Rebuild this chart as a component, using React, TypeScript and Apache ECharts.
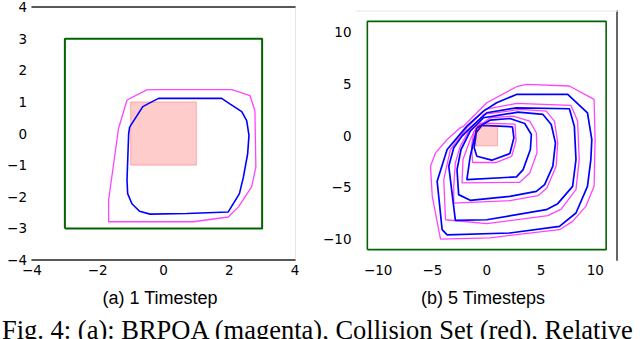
import React, { useEffect, useRef } from "react";
import * as echarts from "echarts";

// ---------- tick labels ----------
const ticksAX = [-4, -2, 0, 2, 4];
const ticksAY = [-4, -3, -2, -1, 0, 1, 2, 3, 4];
const ticksB = [-10, -5, 0, 5, 10];

// ---------- subplot (a): 1 timestep ----------
const envA = [[-3, -3], [3, -3], [3, 3], [-3, 3], [-3, -3]];
const collisionA = [[-1, -1], [1, -1], [1, 1], [-1, 1]];
const brpoaA = [
  [-1.11, 1.06], [-0.51, 1.38], [-0.2, 1.39], [2.08, 1.39], [2.63, 1.2], [2.78, 0.72],
  [2.81, -1.06], [2.68, -1.69], [2.28, -2.32], [1.97, -2.64], [0.91, -2.79],
  [-1.67, -2.79], [-1.67, -2.11], [-1.37, 0.15], [-1.11, 1.06],
];
const reachA = [
  [-1.03, 0.2], [-0.63, 0.85], [-0.43, 0.96], [-0.15, 1.11], [1.77, 1.11], [2.03, 0.93],
  [2.38, 0.69], [2.53, 0.41], [2.6, -0.06], [2.56, -0.64], [2.43, -1.38], [2.31, -1.9],
  [1.97, -2.48], [0.71, -2.53], [-0.41, -2.55], [-0.73, -2.46], [-0.96, -2.22],
  [-1.09, -1.9], [-1.11, -1.48], [-1.06, -0.01], [-1.03, 0.2],
];

// ---------- subplot (b): 5 timesteps ----------
const envB = [[-11, -11], [11, -11], [11, 11], [-11, 11], [-11, -11]];
const collisionB = [[-1, -1], [1, -1], [1, 1], [-1, 1]];
const reachB1 = [
  [-0.97, 0.26], [-0.46, 0.97], [2.37, 0.84], [2.5, -0.23], [2.13, -1.74], [0.46, -2.38],
  [-0.91, -2.0], [-1.16, -1.19], [-0.97, 0.26],
];
const brpoaB1 = [
  [-1.2, 0.3], [-0.6, 1.2], [2.6, 1.1], [2.7, -0.5], [2.3, -2.0], [0.9, -2.6],
  [-1.3, -2.6], [-1.4, -1.0], [-1.2, 0.3],
];
const reachB2 = [
  [-0.91, 0.74], [0.3, 1.48], [2.13, 1.64], [3.5, 1.16], [4.11, 0.1], [4.02, -1.35],
  [3.35, -3.29], [2.74, -3.99], [-1.83, -4.25], [-1.52, -2.0], [-1.16, -0.39], [-0.91, 0.74],
];
const brpoaB2 = [
  [-1.07, 0.58], [0.3, 1.71], [2.44, 1.87], [3.96, 1.39], [4.57, 0.26], [4.63, -1.67],
  [3.96, -3.61], [3.04, -4.51], [-2.28, -4.57], [-2.19, -2.32], [-1.52, -0.39], [-1.07, 0.58],
];
const reachB3 = [
  [-1.52, 0.42], [-0.3, 1.71], [2.89, 2.25], [5.18, 2.03], [5.94, 1.06], [6.33, -0.71],
  [6.09, -2.96], [5.33, -4.73], [4.57, -5.38], [2.13, -5.86], [-1.52, -6.25], [-2.59, -5.7],
  [-2.74, -3.29], [-2.37, -1.35], [-1.52, 0.42],
];
const brpoaB3 = [
  [-1.67, 0.42], [-0.3, 2.03], [3.04, 2.51], [5.48, 2.35], [6.24, 1.39], [6.54, -0.71],
  [6.39, -2.96], [5.54, -5.06], [4.72, -5.8], [2.13, -6.28], [-3.04, -6.51], [-3.04, -4.9],
  [-2.89, -2.64], [-2.44, -1.03], [-1.67, 0.42],
];
const reachB4 = [
  [-1.52, 0.74], [0, 2.19], [2.74, 2.67], [7.61, 2.58], [8.07, 0.9], [8.22, -2.32],
  [7.91, -4.9], [6.54, -6.57], [5.48, -7.15], [0, -8.12], [-2.89, -8.18], [-3.5, -2.96],
  [-3.04, -1.19], [-2.28, -0.06], [-1.52, 0.74],
];
const brpoaB4 = [
  [-1.83, 0.74], [-0.15, 2.51], [2.74, 3.09], [7.76, 2.9], [8.37, 1.39], [8.52, -2.32],
  [8.22, -5.22], [6.85, -7.09], [5.63, -7.73], [0, -8.5], [-3.8, -8.12], [-3.96, -4.25],
  [-3.35, -1.35], [-1.83, 0.74],
];
const reachB5 = [
  [-1.83, 0.9], [-0.3, 2.35], [0.91, 3.16], [2.74, 3.96], [7.46, 3.96], [9.28, 2.19],
  [9.68, -0.39], [9.59, -2.32], [9.28, -4.9], [8.22, -7.47], [6.7, -8.76], [2.13, -9.4],
  [-3.65, -9.57], [-4.11, -9.08], [-4.57, -4.41], [-3.65, -1.35], [-2.74, -0.23], [-1.83, 0.9],
];
const brpoaB5 = [
  [-2.13, 0.9], [-0.91, 2.19], [0, 3.16], [2.74, 4.7], [3.65, 4.93], [7.61, 4.77],
  [9.89, 3.48], [9.98, -0.39], [9.89, -4.9], [9.13, -6.83], [7.91, -8.28], [6.7, -9.08],
  [0.3, -9.86], [-4.26, -9.98], [-5.02, -5.86], [-5.18, -2.96], [-4.72, -1.67],
  [-3.65, -0.39], [-2.44, 0.74], [-2.13, 0.9],
];

const reachB = [reachB1, reachB2, reachB3, reachB4, reachB5];
const brpoaB = [brpoaB1, brpoaB2, brpoaB3, brpoaB4, brpoaB5];

const GREEN = "#006400";
const BLUE = "#0000ff";
const MAGENTA = "#ff44ff";
const TICK_FONT = "DejaVu Sans";

const fmt = (v: number) => (v < 0 ? "\u2212" + String(-v) : String(v));

function lineSeries(name: string, data: number[][], grid: number, color: string, width: number, z = 2) {
  return {
    name,
    type: "line",
    xAxisIndex: grid * 2,
    yAxisIndex: grid * 2,
    data,
    symbol: "none",
    smooth: false,
    z,
    lineStyle: { color, width },
    silent: true,
  };
}

function rectSeries(name: string, pts: number[][], grid: number) {
  return {
    name,
    type: "custom",
    xAxisIndex: grid * 2,
    yAxisIndex: grid * 2,
    data: [[0, 0]],
    z: 1,
    silent: true,
    renderItem: (_p: any, api: any) => ({
      type: "polygon",
      shape: { points: pts.map((p) => api.coord(p)) },
      style: { fill: "rgba(255,0,0,0.2)", stroke: "rgba(255,0,0,0.25)", lineWidth: 1 },
    }),
  };
}

export default function App() {
  const ref = useRef<HTMLDivElement>(null);
  useEffect(() => {
    if (!ref.current) return;
    const chart = echarts.init(ref.current, null, { renderer: "svg" });
    const labelStyle = { fontSize: 13.5, color: "#000", fontFamily: TICK_FONT };
    const series: any[] = [
      rectSeries("Collision Set", collisionA, 0),
      lineSeries("Environment", envA, 0, GREEN, 2),
      lineSeries("BRPOA", brpoaA, 0, MAGENTA, 1.3),
      lineSeries("Reachable", reachA, 0, BLUE, 1.6, 3),
      lineSeries("Environment B", envB, 1, GREEN, 1.6),
    ];
    brpoaB.forEach((d, i) => series.push(lineSeries("BRPOA " + (i + 1), d, 1, MAGENTA, 1.3)));
    reachB.forEach((d, i) => series.push(lineSeries("Reachable " + (i + 1), d, 1, BLUE, 1.7, 3)));
    series.push({ ...rectSeries("Collision Set B", collisionB, 1), z: 4 });

    chart.setOption({
      animation: false,
      backgroundColor: "#fff",
      grid: [
        { left: 32, top: 6, width: 263, height: 254 },
        { left: 356.5, top: 11, width: 260.5, height: 249 },
      ],
      xAxis: [
        {
          gridIndex: 0, type: "value", position: "bottom", min: -4, max: 4, interval: 2,
          axisLine: { show: true, onZero: false, lineStyle: { color: "#222", width: 1.5 } },
          axisTick: { show: false }, splitLine: { show: false },
          axisLabel: { ...labelStyle, margin: 3, formatter: fmt, customValues: ticksAX },
        },
        {
          gridIndex: 0, type: "value", position: "top", min: -4, max: 4, interval: 2,
          axisLine: { show: true, onZero: false, lineStyle: { color: "#222", width: 1.5 } },
          axisTick: { show: false }, splitLine: { show: false }, axisLabel: { show: false },
        },
        {
          gridIndex: 1, type: "value", position: "bottom", min: -12, max: 12,
          axisLine: { show: false, onZero: false }, axisTick: { show: false }, splitLine: { show: false },
          axisLabel: { ...labelStyle, margin: 3, formatter: fmt, customValues: ticksB },
        },
        {
          gridIndex: 1, type: "value", position: "top", min: -12, max: 12,
          axisLine: { show: true, onZero: false, lineStyle: { color: "#eeeeee", width: 1.5 } },
          axisTick: { show: false }, splitLine: { show: false }, axisLabel: { show: false },
        },
      ],
      yAxis: [
        {
          gridIndex: 0, type: "value", position: "left", min: -4, max: 4, interval: 1,
          axisLine: { show: false, onZero: false }, axisTick: { show: false }, splitLine: { show: false },
          axisLabel: { ...labelStyle, margin: 5, formatter: fmt, customValues: ticksAY },
        },
        {
          gridIndex: 0, type: "value", position: "right", min: -4, max: 4, interval: 1,
          axisLine: { show: true, onZero: false, lineStyle: { color: "#e6e6e6", width: 1 } },
          axisTick: { show: false }, splitLine: { show: false }, axisLabel: { show: false },
        },
        {
          gridIndex: 1, type: "value", position: "left", min: -12, max: 12,
          axisLine: { show: false, onZero: false }, axisTick: { show: false }, splitLine: { show: false },
          axisLabel: { ...labelStyle, margin: 5, formatter: fmt, customValues: ticksB },
        },
        {
          gridIndex: 1, type: "value", position: "right", min: -12, max: 12,
          axisLine: { show: true, onZero: false, lineStyle: { color: "#666666", width: 2 } },
          axisTick: { show: false }, splitLine: { show: false }, axisLabel: { show: false },
        },
      ],
      series,
      graphic: [
        {
          type: "text", x: 160, y: 298, silent: true,
          style: { text: "(a) 1 Timestep", fontSize: 18, fontFamily: "Liberation Sans", fill: "#000", align: "center", verticalAlign: "middle" },
        },
        {
          type: "text", x: 483, y: 298, silent: true,
          style: { text: "(b) 5 Timesteps", fontSize: 18, fontFamily: "Liberation Sans", fill: "#000", align: "center", verticalAlign: "middle" },
        },
        {
          type: "text", x: 2, y: 330, silent: true,
          style: {
            text: "Fig. 4: (a): BRPOA (magenta), Collision Set (red), Relative",
            fontSize: 26.5, fontFamily: "Liberation Serif", fill: "#000", align: "left", verticalAlign: "middle",
          },
        },
      ],
    });
    return () => chart.dispose();
  }, []);
  return <div ref={ref} style={{ position: "fixed", left: 0, top: 0, width: 640, height: 339 }} />;
}
